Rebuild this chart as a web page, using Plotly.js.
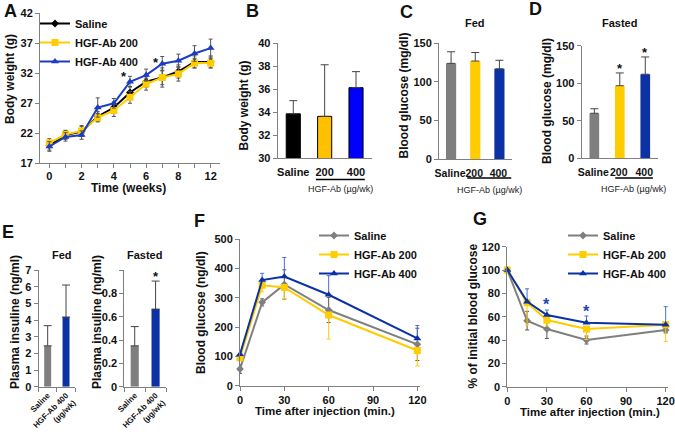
<!DOCTYPE html>
<html><head><meta charset="utf-8">
<script src="https://cdn.plot.ly/plotly-3.0.1.min.js"></script>
<style>html,body{margin:0;padding:0;background:#fff;}#chart{width:675px;height:434px;}</style>
</head><body><div id="chart"></div>
<script>
// ---------- Panel A: body weight over time ----------
const weeks = ['0','1','2','3','4','5','6','7','8','9','12'];
const weekTickText = ['0','','2','','4','','6','','8','','12'];
const bwSaline    = [20.0, 21.7, 22.3, 24.8, 26.3, 28.8, 30.6, 31.3, 32.3, 33.9, 33.9];
const bwSalineErr = [0.8, 0.7, 0.8, 0.8, 0.9, 1.0, 0.9, 1.2, 1.1, 1.0, 1.0];
const bw200       = [20.4, 21.8, 22.4, 24.6, 25.8, 28.0, 30.2, 31.3, 31.9, 33.7, 33.7];
const bw200Err    = [0.7, 0.7, 0.9, 0.7, 1.0, 1.0, 1.0, 1.6, 1.2, 0.8, 0.8];
const bw400       = [19.8, 21.4, 21.7, 26.3, 27.0, 30.6, 31.7, 33.6, 34.1, 35.3, 36.2];
const bw400Err    = [0.8, 0.7, 0.7, 1.6, 0.8, 0.9, 1.0, 1.2, 1.1, 1.3, 1.5];
const sigAx = [4.63, 6.61];
const sigAy = [31.9, 34.3];
const bwTicks = [17, 22, 27, 32, 37, 42];

// ---------- Panels B, C, D ----------
const groupLabels = ['Saline', '200', '400'];
const bwEnd = [33.85, 33.63, 36.13];
const bwEndErr = [1.15, 4.5, 1.4];
const glucoseFed = [124, 127, 117];
const glucoseFedErr = [15, 11, 11];
const glucoseFasted = [60, 96.7, 112];
const glucoseFastedErr = [6, 17, 23];
const glucoseFastedSig = ['', '*', '*'];

// ---------- Panel E ----------
const insulinGroups = ['Saline', 'HGF-Ab 400<br>(µg/wk)'];
const insulinFed = [2.45, 4.18];
const insulinFedErr = [1.21, 1.92];
const insulinFasted = [0.35, 0.665];
const insulinFastedErr = [0.165, 0.24];
const insulinFastedSig = ['', '*'];
const insFastTicks = [0, 0.2, 0.4, 0.6, 0.8, 1.0];
const insFastTickText = ['0', '0.2', '0.4', '0.6', '0.8', ''];

// ---------- Panel F ----------
const times = [0, 15, 30, 60, 120];
const ipSaline = [57, 284, 345, 258, 141];
const ipSalineErr = [15, 12, 50, 43, 55];
const ip200 = [95, 342, 335, 241, 120];
const ip200Err = [10, 22, 40, 82, 53];
const ip400 = [107, 360, 372, 310, 161];
const ip400Err = [10, 23, 65, 65, 44];

// ---------- Panel G ----------
const pctSaline = [100, 56.6, 49.4, 40, 48.6];
const pctSalineErr = [0, 8, 8, 3.4, 2.5];
const pct200 = [100, 72, 57.1, 49.4, 53.2];
const pct200Err = [0, 19, 5, 9, 14.5];
const pct400 = [100, 72.9, 61.4, 54.9, 53];
const pct400Err = [0, 11, 4.3, 5.7, 15.6];
const sigGx = [30, 60];
const sigGy = [74.3, 67.7];

// ---------- styling ----------
const W = 675, H = 434;
const FONT = '"Liberation Sans", Arial, sans-serif';
const AX = '#808080';
const BLACK = '#000000', GRAY = '#7f7f7f', YEL = '#FFCC00', BLUE = '#0b31a5';
const px = (a, b) => [a / W, b / W];
const py = (top, bottom) => [1 - bottom / H, 1 - top / H];
const tf = (s, w) => ({family: FONT, size: s, color: '#111', weight: w || 'bold'});

function axis(extra) {
  return Object.assign({
    showline: true, linecolor: AX, linewidth: 1, showgrid: false, zeroline: false,
    ticks: 'outside', ticklen: 4, tickcolor: AX, tickwidth: 1,
    tickfont: tf(11), fixedrange: true
  }, extra);
}
const zeros = n => new Array(n).fill(0);

const traces = [];
function lineTrace(x, y, err, name, color, sym, size, xa, ya, lg, errColor, mode) {
  const e = {type: 'data', array: err, color: errColor, thickness: 1, width: 2};
  if (mode === 'up') { e.symmetric = false; e.arrayminus = zeros(err.length); }
  if (mode === 'down') { e.symmetric = false; e.arrayminus = err; e.array = zeros(err.length); }
  return {type: 'scatter', mode: 'lines+markers', x: x, y: y, name: name,
    error_y: e, line: {color: color, width: 2},
    marker: {symbol: sym, size: size, color: color},
    xaxis: xa, yaxis: ya, legend: lg, cliponaxis: false};
}
// A
traces.push(lineTrace(weeks, bwSaline, bwSalineErr, 'Saline', BLACK, 'diamond', 6, 'x', 'y', 'legend', '#555'));
traces.push(lineTrace(weeks, bw200, bw200Err, 'HGF-Ab 200', YEL, 'square', 7, 'x', 'y', 'legend', '#555'));
traces.push(lineTrace(weeks, bw400, bw400Err, 'HGF-Ab 400', '#1c3cc2', 'triangle-up', 7, 'x', 'y', 'legend', '#555'));

function barTrace(x, y, err, colors, xa, ya, width, outline) {
  return {type: 'bar', x: x, y: y, width: width, showlegend: false,
    marker: {color: colors, line: {color: outline ? '#000' : 'rgba(0,0,0,0)', width: outline ? 1 : 0}},
    error_y: {type: 'data', symmetric: false, array: err, arrayminus: zeros(err.length),
      color: '#444', thickness: 1, width: 4},
    xaxis: xa, yaxis: ya};
}
traces.push(barTrace(groupLabels, bwEnd, bwEndErr, ['#000000', '#FFC000', '#0000FF'], 'x2', 'y2', 0.45, true));
traces.push(barTrace(groupLabels, glucoseFed, glucoseFedErr, [GRAY, YEL, BLUE], 'x3', 'y3', 0.42, false));
traces.push(barTrace(groupLabels, glucoseFasted, glucoseFastedErr, [GRAY, YEL, BLUE], 'x4', 'y4', 0.38, false));
traces.push(barTrace(insulinGroups, insulinFed, insulinFedErr, [GRAY, BLUE], 'x5', 'y5', 0.38, false));
traces.push(barTrace(insulinGroups, insulinFasted, insulinFastedErr, [GRAY, BLUE], 'x6', 'y6', 0.39, false));

// F
traces.push(lineTrace(times, ipSaline, ipSalineErr, 'Saline', GRAY, 'diamond', 6, 'x7', 'y7', 'legend2', '#555'));
traces.push(lineTrace(times, ip200, ip200Err, 'HGF-Ab 200', YEL, 'square', 7, 'x7', 'y7', 'legend2', YEL, 'down'));
traces.push(lineTrace(times, ip400, ip400Err, 'HGF-Ab 400', BLUE, 'triangle-up', 7, 'x7', 'y7', 'legend2', '#4a6fd0', 'up'));
// G
traces.push(lineTrace(times, pctSaline, pctSalineErr, 'Saline', GRAY, 'diamond', 6, 'x8', 'y8', 'legend3', '#555'));
traces.push(lineTrace(times, pct200, pct200Err, 'HGF-Ab 200', YEL, 'square', 7, 'x8', 'y8', 'legend3', YEL, 'down'));
traces.push(lineTrace(times, pct400, pct400Err, 'HGF-Ab 400', BLUE, 'triangle-up', 7, 'x8', 'y8', 'legend3', '#4a6fd0', 'up'));

// ---------- annotations ----------
const ann = [];
function txt(text, x, y, size, opts) {
  ann.push(Object.assign({text: text, xref: 'paper', yref: 'paper', x: x / W, y: 1 - y / H,
    showarrow: false, xanchor: 'center', yanchor: 'middle',
    font: {family: FONT, size: size, color: '#111', weight: 'bold'}}, opts || {}));
}
// panel letters
txt('A', 11, 11, 18); txt('B', 252.5, 11, 18); txt('C', 406, 12, 18); txt('D', 535, 9, 18);
txt('E', 7.5, 231.5, 18); txt('F', 199, 220.5, 18); txt('G', 480, 219, 18);
// sub titles
txt('Fed', 475, 22.7, 11); txt('Fasted', 619, 22.7, 11);
txt('Fed', 61.7, 255, 11); txt('Fasted', 144, 255, 11);
// axis titles
const rot = {textangle: -90};
txt('Body weight (g)', 10, 79, 12, rot);
txt('Time (weeks)', 128.5, 188, 12);
txt('Body weight (g)', 243.5, 106, 12, rot);
txt('Blood glucose (mg/dl)', 403.5, 96, 12, rot);
txt('Blood glucose (mg/dl)', 547, 101, 12, rot);
txt('Plasma insuline (ng/ml)', 15, 322, 12, rot);
txt('Plasma insuline (ng/ml)', 97, 322, 12, rot);
txt('Blood glucose (ng/dl)', 201, 312, 12, rot);
txt('Time after injection (min.)', 325, 410.5, 11.5);
txt('% of initial blood glucose', 472, 316.5, 12, rot);
txt('Time after injection (min.)', 590, 411.5, 11.5);
// HGF-Ab group labels
const sub = {font: {family: FONT, size: 9, color: '#222', weight: 'normal'}};
ann.push(Object.assign({text: 'HGF-Ab (µg/wk)', xref: 'x2', yref: 'paper', x: 1.5, y: 1 - 189 / H, showarrow: false, xanchor: 'center', yanchor: 'middle'}, sub));
ann.push(Object.assign({text: 'HGF-Ab (µg/wk)', xref: 'x3', yref: 'paper', x: 1.6, y: 1 - 190 / H, showarrow: false, xanchor: 'center', yanchor: 'middle'}, sub));
ann.push(Object.assign({text: 'HGF-Ab (µg/wk)', xref: 'x4', yref: 'paper', x: 1.52, y: 1 - 189 / H, showarrow: false, xanchor: 'center', yanchor: 'middle'}, sub));
// significance stars
const starFont = {family: FONT, size: 13, color: '#111', weight: 'bold'};
sigAx.forEach((x, i) => ann.push({text: '*', xref: 'x', yref: 'y', x: x, y: sigAy[i], showarrow: false,
  yshift: -3, font: starFont}));
glucoseFastedSig.forEach((s, i) => { if (s) ann.push({text: s, xref: 'x4', yref: 'y4', x: i,
  y: glucoseFasted[i] + glucoseFastedErr[i], yanchor: 'bottom', yshift: -5, showarrow: false, font: starFont}); });
insulinFastedSig.forEach((s, i) => { if (s) ann.push({text: s, xref: 'x6', yref: 'y6', x: i,
  y: insulinFasted[i] + insulinFastedErr[i], yanchor: 'bottom', yshift: -5, showarrow: false, font: starFont}); });
sigGx.forEach((x, i) => ann.push({text: '*', xref: 'x8', yref: 'y8', x: x, y: sigGy[i], showarrow: false,
  yshift: -4, font: {family: FONT, size: 16, color: '#2045b5', weight: 'bold'}}));

// underline beneath the HGF-Ab dose labels
const shapes = [
  {type: 'line', xref: 'x2', yref: 'paper', x0: 0.72, x1: 2.28, y0: 1 - 179.5 / H, y1: 1 - 179.5 / H, line: {color: '#000', width: 1.3}},
  {type: 'line', xref: 'x3', yref: 'paper', x0: 0.67, x1: 2.5, y0: 1 - 178 / H, y1: 1 - 178 / H, line: {color: '#000', width: 1.3}},
  {type: 'line', xref: 'x4', yref: 'paper', x0: 0.82, x1: 2.3, y0: 1 - 178 / H, y1: 1 - 178 / H, line: {color: '#000', width: 1.3}}
];

const legendBase = {xanchor: 'left', yanchor: 'top', bgcolor: 'rgba(0,0,0,0)', borderwidth: 0,
  font: {family: FONT, size: 11, color: '#111', weight: 'bold'}, tracegroupgap: 0, itemwidth: 30};

const catBar = (dom, ya, fs, shift) => axis({domain: dom, anchor: ya, type: 'category', range: [-0.5, 2.5], ticks: '',
  ticklabelstandoff: 4, ticklabelshift: shift, tickangle: 0, tickfont: tf(fs)});

const layout = {
  width: W, height: H, margin: {l: 0, r: 0, t: 0, b: 0},
  paper_bgcolor: '#fff', plot_bgcolor: 'rgba(0,0,0,0)', showlegend: true,
  font: {family: FONT, color: '#111'},
  xaxis: axis({domain: px(40, 220), anchor: 'y', type: 'category', range: [-0.58, 10.58],
    tickvals: weeks, ticktext: weekTickText, ticklabelstandoff: -2}),
  yaxis: axis({domain: py(13.3, 163.3), anchor: 'x', range: [17, 42], tickvals: bwTicks}),
  xaxis2: catBar(px(277.6, 371.7), 'y2', 11, 0),
  yaxis2: axis({domain: py(43.3, 158), anchor: 'x2', range: [30, 40], dtick: 2}),
  xaxis3: catBar(px(439, 511.5), 'y3', 10.5, -1),
  yaxis3: axis({domain: py(43.3, 159), anchor: 'x3', range: [0, 150], dtick: 50}),
  xaxis4: catBar(px(581.6, 658), 'y4', 10.5, -1),
  yaxis4: axis({domain: py(45.7, 158.3), anchor: 'x4', range: [0, 150], dtick: 50}),
  xaxis5: axis({domain: px(38.5, 75.2), anchor: 'y5', type: 'category', range: [-0.5, 1.5],
    tickson: 'boundaries', tickangle: -45, tickfont: tf(8)}),
  yaxis5: axis({domain: py(270, 386.7), anchor: 'x5', range: [0, 7], dtick: 1}),
  xaxis6: axis({domain: px(124.3, 166), anchor: 'y6', type: 'category', range: [-0.5, 1.5],
    tickson: 'boundaries', tickangle: -45, tickfont: tf(8)}),
  yaxis6: axis({domain: py(270, 386.7), anchor: 'x6', range: [0, 1.0], tickvals: insFastTicks, ticktext: insFastTickText}),
  xaxis7: axis({domain: px(240, 420.3), anchor: 'y7', range: [0, 122], tickvals: [0, 30, 60, 90, 120]}),
  yaxis7: axis({domain: py(239, 385.7), anchor: 'x7', range: [0, 500], dtick: 100}),
  xaxis8: axis({domain: px(507.3, 668.3), anchor: 'y8', range: [0, 122], tickvals: [0, 30, 60, 90, 120]}),
  yaxis8: axis({domain: py(246.7, 386.7), anchor: 'x8', range: [0, 120], dtick: 20}),
  legend: Object.assign({}, legendBase, {x: 35 / W, y: 1 - 9 / H}),
  legend2: Object.assign({}, legendBase, {x: 314 / W, y: 1 - 221 / H}),
  legend3: Object.assign({}, legendBase, {x: 563 / W, y: 1 - 221 / H}),
  annotations: ann,
  shapes: shapes
};

Plotly.newPlot('chart', traces, layout, {displayModeBar: false, staticPlot: true});
</script>
</body></html>
